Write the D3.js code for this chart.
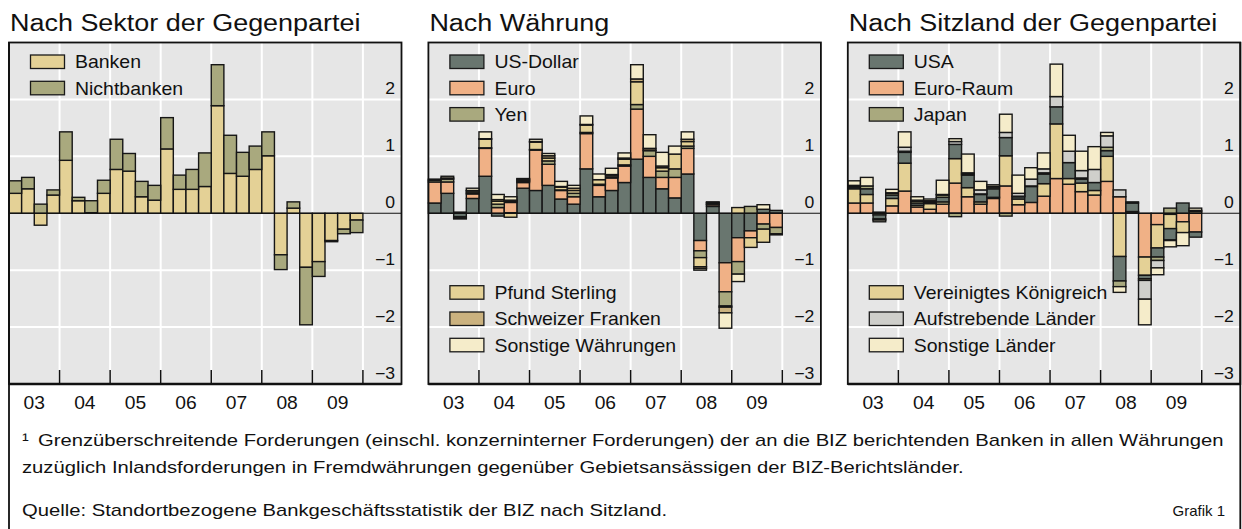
<!DOCTYPE html>
<meta charset="utf-8">
<head>
<title>Grafik 1</title>
<script src="https://cdn.jsdelivr.net/npm/d3@7"></script>
<style>
  body { margin: 0; background: #fff; }
  text { font-family: "Liberation Sans", Arial, sans-serif; fill: #111; }
</style>
</head>
<body>
<div id="chart"></div>
<script>
// quarters 2003 Q1 .. 2009 Q4
var quarters = ["03Q1","03Q2","03Q3","03Q4","04Q1","04Q2","04Q3","04Q4","05Q1","05Q2","05Q3","05Q4",
  "06Q1","06Q2","06Q3","06Q4","07Q1","07Q2","07Q3","07Q4","08Q1","08Q2","08Q3","08Q4","09Q1","09Q2","09Q3","09Q4"];
var years = ["03","04","05","06","07","08","09"];
var yTicks = [2, 1, 0, -1, -2, -3];
var gridValues = [2, 1, -1, -2];

// Nach Sektor der Gegenpartei
var banken      = [0.35,0.43,-0.21,0.32,0.93,0.22,0.01,0.35,0.77,0.74,0.29,0.23,1.13,0.42,0.42,0.47,1.89,0.70,0.65,0.77,1.01,-0.73,0.09,-0.95,-0.85,-0.48,-0.28,-0.12];
var nichtbanken = [0.22,0.20,0.16,0.09,0.50,0.06,0.21,0.23,0.53,0.31,0.27,0.26,0.55,0.25,0.35,0.59,0.72,0.67,0.42,0.41,0.42,-0.26,0.11,-1.01,-0.26,-0.02,-0.08,-0.22];

// Nach Währung
var usDollar  = [0.18,0.35,-0.06,0.26,0.65,-0.05,0.01,0.44,0.40,0.49,0.25,0.16,0.78,0.29,0.40,0.54,0.95,0.63,0.43,0.27,0.69,-0.48,0.12,-0.87,-0.43,-0.31,0.07,0.05];
var euro      = [0.37,0.20,0.02,0.08,0.49,0.10,0.18,0.10,0.71,0.37,0.15,0.13,0.62,0.20,0.22,0.29,0.88,0.37,0.20,0.36,0.45,-0.18,0.03,-0.51,-0.42,-0.12,-0.19,-0.25];
var yen       = [0.03,0.05,-0.02,0.02,0.01,0.06,0.02,0.02,0.01,0.06,0.01,0.06,0.02,0.02,0.02,0.02,0.08,0.10,0.11,0.15,0.04,-0.12,0.01,-0.25,-0.22,0.12,-0.09,-0.11];
var pfund     = [0.00,0.02,0.00,0.03,0.15,0.05,-0.07,0.02,0.13,0.05,0.05,0.05,0.13,0.08,0.03,0.10,0.40,0.01,0.06,0.26,0.08,-0.16,0.02,-0.02,0.10,-0.17,-0.23,-0.02];
var franken   = [0.02,0.00,-0.01,0.01,0.01,0.03,0.02,0.02,0.01,0.04,0.01,0.04,0.01,0.00,0.01,0.02,0.05,0.03,0.03,0.00,0.04,-0.03,0.01,-0.10,0.00,0.00,0.00,0.00];
var sonstWaehr= [0.00,0.03,-0.01,0.04,0.12,0.09,0.06,0.01,0.04,0.04,0.09,0.05,0.15,0.10,0.11,0.09,0.25,0.24,0.24,0.14,0.13,-0.03,0.01,-0.27,-0.13,0.00,0.08,0.00];

// Nach Sitzland der Gegenpartei
var euroRaum  = [0.18,0.18,0.02,0.13,0.39,0.11,0.07,0.16,0.53,0.29,0.16,0.26,0.48,0.15,0.19,0.30,0.61,0.51,0.38,0.32,0.56,0.29,0.02,-0.77,-0.20,-0.02,-0.15,-0.33];
var vk        = [0.25,0.15,-0.03,0.13,0.49,0.03,0.10,0.04,0.43,0.16,0.04,0.02,0.53,0.10,0.00,0.22,0.96,0.10,0.15,0.08,0.44,-0.76,0.01,-0.32,-0.41,-0.25,-0.19,0.03];
var usa       = [0.03,0.10,-0.07,0.06,0.19,0.04,0.01,0.08,0.25,0.22,0.13,0.15,0.32,0.04,0.28,0.17,0.30,0.28,0.07,0.14,0.10,-0.43,0.15,-0.06,-0.16,-0.20,0.18,-0.09];
var japan     = [0.01,0.05,-0.02,0.03,0.02,0.03,0.02,0.04,-0.06,0.02,0.01,0.03,-0.05,0.01,0.01,0.02,0.00,0.00,0.02,0.00,0.06,-0.10,0.02,-0.03,-0.06,0.09,0.00,0.00];
var aufstr    = [0.02,0.00,0.00,0.01,0.07,0.02,0.02,0.01,0.05,0.02,0.07,0.01,0.09,0.05,0.12,0.07,0.18,0.20,0.13,0.23,0.20,0.12,0.00,-0.33,-0.13,-0.01,0.00,0.02];
var sonstL    = [0.08,0.15,-0.03,0.06,0.27,0.06,0.03,0.25,0.05,0.33,0.15,0.03,0.32,0.32,0.20,0.28,0.57,0.28,0.34,0.40,0.06,-0.10,0.00,-0.45,-0.12,-0.11,-0.23,0.04];

var col = {
  tan: "#e4d196", olive: "#a9a97e", dark: "#69766f", salmon: "#f0b186",
  chf: "#cbb27f", cream: "#f5ecca", lgray: "#cfcfcb"
};

var panels = [
  { title: "Nach Sektor der Gegenpartei",
    series: [
      { name: "Banken", values: banken, color: col.tan },
      { name: "Nichtbanken", values: nichtbanken, color: col.olive } ],
    top: ["Banken", "Nichtbanken"], bottom: [] },
  { title: "Nach Währung",
    series: [
      { name: "US-Dollar", values: usDollar, color: col.dark },
      { name: "Euro", values: euro, color: col.salmon },
      { name: "Yen", values: yen, color: col.olive },
      { name: "Pfund Sterling", values: pfund, color: col.tan },
      { name: "Schweizer Franken", values: franken, color: col.chf },
      { name: "Sonstige Währungen", values: sonstWaehr, color: col.cream } ],
    top: ["US-Dollar", "Euro", "Yen"], bottom: ["Pfund Sterling", "Schweizer Franken", "Sonstige Währungen"] },
  { title: "Nach Sitzland der Gegenpartei",
    series: [
      { name: "Euro-Raum", values: euroRaum, color: col.salmon },
      { name: "Vereinigtes Königreich", values: vk, color: col.tan },
      { name: "USA", values: usa, color: col.dark },
      { name: "Japan", values: japan, color: col.olive },
      { name: "Aufstrebende Länder", values: aufstr, color: col.lgray },
      { name: "Sonstige Länder", values: sonstL, color: col.cream } ],
    top: ["USA", "Euro-Raum", "Japan"], bottom: ["Vereinigtes Königreich", "Aufstrebende Länder", "Sonstige Länder"] }
];

var width = 1242, height = 529;
var panelLeft = [9, 428.4, 847.8], panelW = 392.5;
var plotTop = 42.5, plotBottom = 384;
var barsW = 28 * 12.64;
var SX = 1.1; // source is stretched horizontally

var svg = d3.select("#chart").append("svg")
  .attr("width", width).attr("height", height);

svg.append("rect").attr("width", width).attr("height", height).attr("fill", "#fff");

function label(g, x, y, s, size, anchor, sx) {
  return g.append("text")
    .attr("transform", "translate(" + x + "," + y + ") scale(" + (sx || SX) + ",1)")
    .attr("text-anchor", anchor || "start")
    .style("font-size", size + "px")
    .text(s);
}

var y = d3.scaleLinear().domain([-3, 3]).range([plotBottom, plotTop]);

panels.forEach(function(p, pi) {
  var L = panelLeft[pi];
  var g = svg.append("g");

  var x = d3.scaleBand().domain(quarters).range([L, L + barsW]).padding(0);
  var xy = d3.scaleBand().domain(years).range([L, L + barsW]).padding(0);

  label(g, L + 1, 30.5, p.title, 24.5);

  g.append("rect")
    .attr("x", L).attr("y", plotTop).attr("width", panelW).attr("height", plotBottom - plotTop)
    .attr("fill", "#e6e6e6");

  // grid
  g.selectAll(".hgrid").data(gridValues).enter().append("line")
    .attr("x1", L).attr("x2", L + panelW)
    .attr("y1", function(d) { return y(d); }).attr("y2", function(d) { return y(d); })
    .attr("stroke", "#fff").attr("stroke-width", 2);
  g.selectAll(".vgrid").data(years).enter().append("line")
    .attr("x1", function(d) { return xy(d) + xy.bandwidth(); })
    .attr("x2", function(d) { return xy(d) + xy.bandwidth(); })
    .attr("y1", plotTop).attr("y2", plotBottom)
    .attr("stroke", "#fff").attr("stroke-width", 2);

  // bars
  var rows = quarters.map(function(q, i) {
    var r = { q: q };
    p.series.forEach(function(s) { r[s.name] = s.values[i]; });
    return r;
  });
  var stack = d3.stack()
    .keys(p.series.map(function(s) { return s.name; }))
    .offset(d3.stackOffsetDiverging);
  var layers = stack(rows);

  g.selectAll(".layer").data(layers).enter().append("g")
    .attr("fill", function(d, i) { return p.series[i].color; })
    .selectAll("rect").data(function(d) { return d.filter(function(e) { return Math.abs(e[1] - e[0]) > 0.0001; }); })
    .enter().append("rect")
    .attr("x", function(d) { return x(d.data.q); })
    .attr("width", x.bandwidth())
    .attr("y", function(d) { return y(d[1]); })
    .attr("height", function(d) { return y(d[0]) - y(d[1]); })
    .attr("stroke", "#161616").attr("stroke-width", 1.4);

  // zero line
  g.append("line")
    .attr("x1", L).attr("x2", L + panelW)
    .attr("y1", y(0)).attr("y2", y(0))
    .attr("stroke", "#111").attr("stroke-width", 1.2);

  // bottom ticks between years
  g.selectAll(".tk").data(years).enter().append("line")
    .attr("x1", function(d) { return xy(d) + xy.bandwidth(); })
    .attr("x2", function(d) { return xy(d) + xy.bandwidth(); })
    .attr("y1", plotBottom - 14).attr("y2", plotBottom)
    .attr("stroke", "#111").attr("stroke-width", 1.5);

  // y labels
  yTicks.forEach(function(v) {
    label(g, L + 386, y(v) - 5, v < 0 ? "\u2212" + Math.abs(v) : String(v), 16, "end");
  });

  // x labels
  years.forEach(function(yr) {
    label(g, xy(yr) + xy.bandwidth() / 2, 409, yr, 17.5, "middle");
  });

  // frame
  g.append("rect")
    .attr("x", L).attr("y", plotTop).attr("width", panelW).attr("height", plotBottom - plotTop)
    .attr("fill", "none").attr("stroke", "#111").attr("stroke-width", 1.8);
  g.append("line")
    .attr("x1", L).attr("x2", L + panelW).attr("y1", plotBottom).attr("y2", plotBottom)
    .attr("stroke", "#111").attr("stroke-width", 2.5);

  // legends
  function legend(names, y0) {
    names.forEach(function(n, i) {
      var s = p.series.filter(function(d) { return d.name === n; })[0];
      var ty = y0 + i * 26.3;
      g.append("rect")
        .attr("x", L + 21.5).attr("y", ty).attr("width", 34).attr("height", 13.5)
        .attr("fill", s.color).attr("stroke", "#1a1a1a").attr("stroke-width", 1.3);
      label(g, L + 66, ty + 13.3, n, 17.7);
    });
  }
  legend(p.top, 55);
  legend(p.bottom, 285.7);
});

// outer frame sides
svg.append("line").attr("x1", 9).attr("x2", 9).attr("y1", 42).attr("y2", height)
  .attr("stroke", "#111").attr("stroke-width", 1.8);
svg.append("line").attr("x1", 1240.3).attr("x2", 1240.3).attr("y1", 42).attr("y2", height)
  .attr("stroke", "#111").attr("stroke-width", 1.8);

// footnotes
var foot = svg.append("g");
var FS = 17, FSX = 1.19;
label(foot, 22, 446, "\u00b9", FS, "start", FSX);
label(foot, 38, 446, "Grenzüberschreitende Forderungen (einschl. konzerninterner Forderungen) der an die BIZ berichtenden Banken in allen Währungen", FS, "start", FSX);
label(foot, 22, 473, "zuzüglich Inlandsforderungen in Fremdwährungen gegenüber Gebietsansässigen der BIZ-Berichtsländer.", FS, "start", FSX);
label(foot, 22, 516, "Quelle: Standortbezogene Bankgeschäftsstatistik der BIZ nach Sitzland.", FS, "start", FSX);
label(foot, 1225, 516, "Grafik 1", 15, "end", 1.0);
</script>
</body>
